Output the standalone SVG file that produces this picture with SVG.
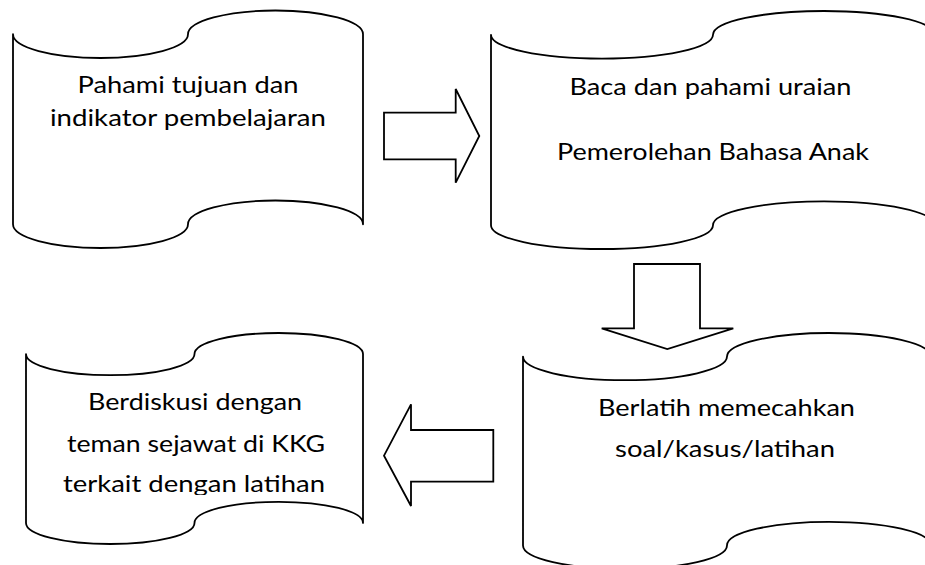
<svg xmlns="http://www.w3.org/2000/svg" width="925" height="565" viewBox="0 0 925 565">
<style>
.shape{fill:#fff;stroke:#000;stroke-width:1.8;stroke-linejoin:round}
.arrow{fill:#fff;stroke:#000;stroke-width:1.8;stroke-linejoin:miter}
.t{font-family:Lato,"Liberation Sans",sans-serif;font-size:24px;fill:#000;text-anchor:middle}
</style>
<defs>
<clipPath id="clip4"><rect x="0" y="300" width="400" height="195"/></clipPath>
</defs>
<rect width="925" height="565" fill="#fff"/>
<g id="node1">
<path class="shape" d="M13,34.25 A87.5,23.75 0 0 0 188,34.25 A87.5,23.75 0 0 1 363,34.25 L363,224.25 A87.5,23.75 0 0 0 188,224.25 A87.5,23.75 0 0 1 13,224.25 Z"/>
<text class="t" x="188" y="93" textLength="221" lengthAdjust="spacingAndGlyphs">Pahami tujuan dan</text>
<text class="t" x="188" y="126" textLength="276" lengthAdjust="spacingAndGlyphs">indikator pembelajaran</text>
</g>
<g id="node2">
<path class="shape" d="M491,34.8 A111,23.8 0 0 0 713,34.8 A111,23.8 0 0 1 935,34.8 L935,225.2 A111,23.8 0 0 0 713,225.2 A111,23.8 0 0 1 491,225.2 Z"/>
<text class="t" x="710.5" y="95" textLength="282" lengthAdjust="spacingAndGlyphs">Baca dan pahami uraian</text>
<text class="t" x="713" y="160" textLength="312" lengthAdjust="spacingAndGlyphs">Pemerolehan Bahasa Anak</text>
</g>
<g id="node3">
<path class="shape" d="M523,356.6 A102,23.6 0 0 0 727,356.6 A102,23.6 0 0 1 931,356.6 L931,545.4 A102,23.6 0 0 0 727,545.4 A102,23.6 0 0 1 523,545.4 Z"/>
<text class="t" x="726.5" y="415.7" textLength="257" lengthAdjust="spacingAndGlyphs">Berlatih memecahkan</text>
<text class="t" x="725" y="456.7" textLength="220" lengthAdjust="spacingAndGlyphs">soal/kasus/latihan</text>
</g>
<g id="node4">
<path class="shape" d="M26,354.1 A84.25,21.1 0 0 0 194.5,354.1 A84.25,21.1 0 0 1 363,354.1 L363,522.9 A84.25,21.1 0 0 0 194.5,522.9 A84.25,21.1 0 0 1 26,522.9 Z"/>
<g clip-path="url(#clip4)">
<text class="t" x="195" y="410" textLength="214" lengthAdjust="spacingAndGlyphs">Berdiskusi dengan</text>
<text class="t" x="196" y="451.7" textLength="258" lengthAdjust="spacingAndGlyphs">teman sejawat di KKG</text>
<text class="t" x="194" y="491.7" textLength="262" lengthAdjust="spacingAndGlyphs">terkait dengan latihan</text>
</g>
</g>
<g id="connectors">
<polygon class="arrow" points="384,112.7 455.7,112.7 455.7,89 479.3,136 455.7,182.7 455.7,159.3 384,159.3"/>
<polygon class="arrow" points="634,264 700,264 700,328.3 733.3,328.3 667.3,349 601.7,328.3 634,328.3"/>
<polygon class="arrow" points="493.3,430 411,430 411,404.3 384,455.7 411,506 411,481.7 493.3,481.7"/>
</g>
</svg>
